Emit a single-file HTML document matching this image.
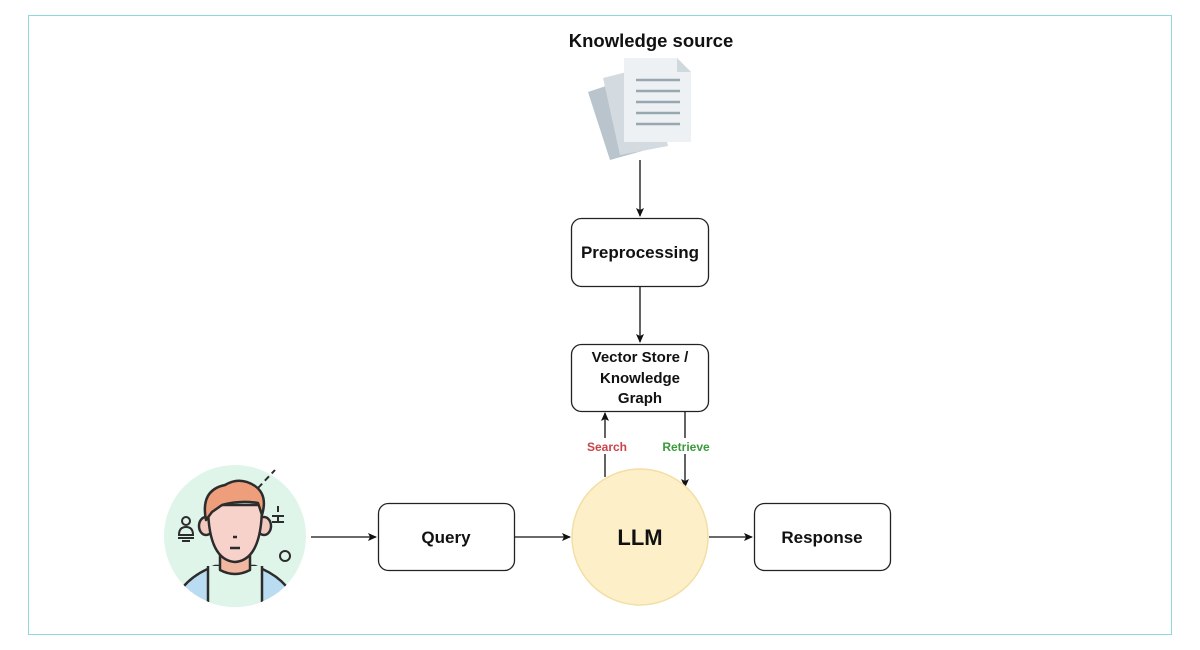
<!DOCTYPE html>
<html><head><meta charset="utf-8"><style>
body{margin:0;background:#fff;}
svg{display:block;font-family:"Liberation Sans",Arial,sans-serif;}
</style></head><body>
<svg width="1200" height="650" viewBox="0 0 1200 650" xmlns="http://www.w3.org/2000/svg">
<defs>
<marker id="a" markerWidth="10" markerHeight="10" refX="8" refY="5" orient="auto" markerUnits="userSpaceOnUse">
<path d="M0,1 L9,5 L0,9 L2,5 z" fill="#111"/></marker>
</defs>
<rect x="28.5" y="15.5" width="1143" height="619" fill="#fff" stroke="#8fd8e2" stroke-width="1"/>
<text x="651" y="47" text-anchor="middle" font-size="18.5" font-weight="bold" fill="#111">Knowledge source</text>
<g>
<polygon points="588,92 636,76 660,146 610,160" fill="#b9c4cc"/>
<polygon points="603,78 650,66 668,146 620,155" fill="#d3dbe0"/>
<polygon points="624,58 677,58 691,72 691,142 624,142" fill="#edf1f3"/>
<polygon points="677,58 691,72 677,72" fill="#cfd8dd"/>
<g stroke="#98a8b0" stroke-width="2.5">
<line x1="636" y1="80" x2="680" y2="80"/><line x1="636" y1="91" x2="680" y2="91"/>
<line x1="636" y1="102" x2="680" y2="102"/><line x1="636" y1="113" x2="680" y2="113"/>
<line x1="636" y1="124" x2="680" y2="124"/></g>
</g>
<line x1="640" y1="160" x2="640" y2="216" stroke="#111" stroke-width="1.3" marker-end="url(#a)"/>
<rect x="571.5" y="218.5" width="137" height="68" rx="10" fill="#fff" stroke="#222" stroke-width="1.3"/>
<text x="640" y="258" text-anchor="middle" font-size="17" font-weight="bold" fill="#111">Preprocessing</text>
<line x1="640" y1="287" x2="640" y2="342" stroke="#111" stroke-width="1.3" marker-end="url(#a)"/>
<rect x="571.5" y="344.5" width="137" height="67" rx="10" fill="#fff" stroke="#222" stroke-width="1.3"/>
<text text-anchor="middle" font-size="15" font-weight="bold" fill="#111"><tspan x="640" y="362">Vector Store /</tspan><tspan x="640" y="383">Knowledge</tspan><tspan x="640" y="403">Graph</tspan></text>
<line x1="605" y1="477" x2="605" y2="413" stroke="#111" stroke-width="1.3" marker-end="url(#a)"/>
<line x1="685" y1="412" x2="685" y2="487" stroke="#111" stroke-width="1.3" marker-end="url(#a)"/>
<rect x="584" y="438" width="44" height="16" fill="#fff"/>
<rect x="660" y="438" width="52" height="16" fill="#fff"/>
<text x="607" y="451" text-anchor="middle" font-size="12" font-weight="bold" fill="#c9444a">Search</text>
<text x="686" y="451" text-anchor="middle" font-size="12" font-weight="bold" fill="#3b9a3b">Retrieve</text>
<circle cx="640" cy="537" r="68" fill="#fdf0c8" stroke="#f2dfa6" stroke-width="1.5"/>
<text x="640" y="545" text-anchor="middle" font-size="22" font-weight="bold" fill="#111">LLM</text>
<rect x="378.5" y="503.5" width="136" height="67" rx="10" fill="#fff" stroke="#222" stroke-width="1.3"/>
<text x="446" y="543" text-anchor="middle" font-size="17" font-weight="bold" fill="#111">Query</text>
<rect x="754.5" y="503.5" width="136" height="67" rx="10" fill="#fff" stroke="#222" stroke-width="1.3"/>
<text x="822" y="543" text-anchor="middle" font-size="17" font-weight="bold" fill="#111">Response</text>
<line x1="311" y1="537" x2="376" y2="537" stroke="#111" stroke-width="1.3" marker-end="url(#a)"/>
<line x1="515" y1="537" x2="570" y2="537" stroke="#111" stroke-width="1.3" marker-end="url(#a)"/>
<line x1="709" y1="537" x2="752" y2="537" stroke="#111" stroke-width="1.3" marker-end="url(#a)"/>
<defs><clipPath id="c"><circle cx="235" cy="536" r="71"/></clipPath></defs>
<circle cx="235" cy="536" r="71" fill="#dff5e9"/>
<g clip-path="url(#c)" stroke="#2c2c2c" stroke-width="2.5" stroke-linejoin="round">
<path d="M168,630 Q170,582 215,566 L255,566 Q300,582 302,630 Z" fill="#b9dcf2"/>
<path d="M208,566 L262,566 L262,615 L208,615 Z" fill="#dff5e9" stroke="none"/>
<path d="M208,566 L208,615 M262,566 L262,615" fill="none"/>
<path d="M220,548 L220,570 Q235,578 250,570 L250,548 Z" fill="#f2b7a0"/>
<ellipse cx="206" cy="526" rx="7" ry="9" fill="#f2c9bf"/>
<ellipse cx="264" cy="526" rx="7" ry="9" fill="#f2c9bf"/>
<path d="M208,505 Q208,560 235,562 Q262,560 262,505 Z" fill="#f7d2cb"/>
<path d="M206,520 Q200,490 225,485 Q240,476 255,486 Q268,495 262,515 L258,503 Q240,500 222,505 L212,512 Z" fill="#ef9e7c"/>
<line x1="233" y1="537" x2="237" y2="537"/>
<line x1="230" y1="548" x2="240" y2="548"/>
</g>
<g stroke="#2c2c2c" stroke-width="2" fill="none">
<path d="M258,488 L275,470" stroke-dasharray="6,4"/>
<circle cx="285" cy="556" r="5"/>
<path d="M278,506 L278,512 M272,516 L284,516 M278,516 L278,522 M272,522 L284,522"/>
<circle cx="186" cy="521" r="4"/>
<path d="M179,535 Q179,527 186,527 Q193,527 193,535 Z M178,538 L194,538 M182,541 L190,541"/>
</g>
</svg>
</body></html>
